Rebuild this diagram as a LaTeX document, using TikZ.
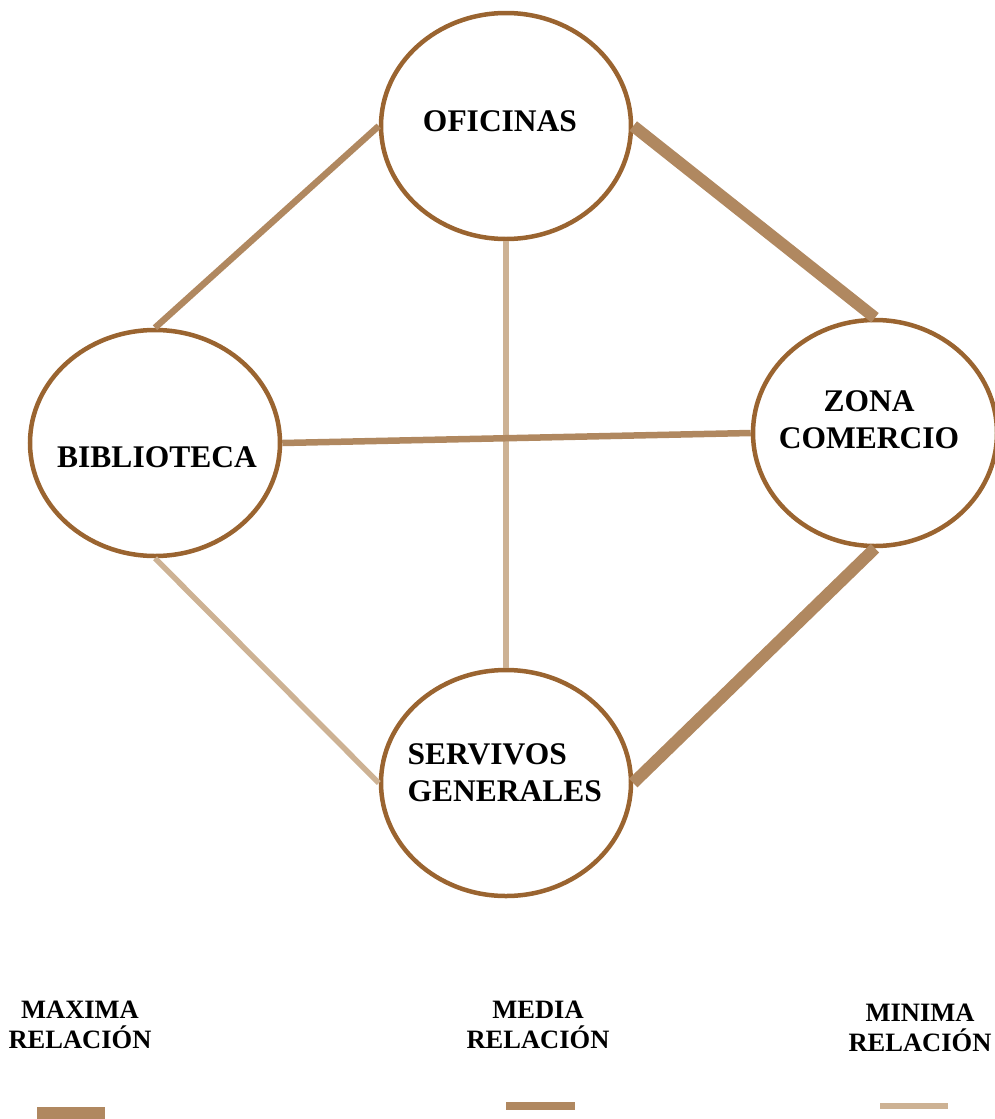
\documentclass[tikz,border=0pt]{standalone}
\usepackage{fontspec}
\setmainfont{Liberation Serif}
\usepackage{xcolor}
\usetikzlibrary{shapes.geometric}

\definecolor{borde}{HTML}{9A6430}
\definecolor{fuerte}{HTML}{B08860}
\definecolor{debil}{HTML}{CDB294}

\begin{document}
\begin{tikzpicture}[x=1pt,y=-1pt,
  zona/.style={ellipse,draw=borde,line width=4.5pt,fill=white,inner sep=0pt,
    minimum width=250pt,minimum height=226pt},
  texto/.style={font=\fontsize{31.5}{37}\selectfont\bfseries,align=center},
  leyenda/.style={font=\fontsize{26.5}{30}\selectfont\bfseries,align=center},
  maxima/.style={draw=fuerte,line width=12pt},
  media/.style={draw=fuerte,line width=6.5pt},
  minima/.style={draw=debil,line width=5.5pt}]
\useasboundingbox (0,0) rectangle (995,1119);

\node[zona]               (O) at (506,126)  {};
\node[zona]               (B) at (155,443)  {};
\node[zona,minimum width=244pt] (Z) at (875,433) {};
\node[zona]               (S) at (506,783)  {};

\node[texto]              (tO) at (500,121) {OFICINAS};
\node[texto]              (tB) at (157,457) {BIBLIOTECA};
\node[texto]              (tZ) at (869,420) {ZONA\\COMERCIO};
\node[texto,align=left,anchor=west] (tS) at (404,773) {SERVIVOS\\GENERALES};

\path (O.west) edge[media]  (B.north)
      (O.east) edge[maxima] (Z.north)
      (O.south) edge[minima] (S.north)
      (B.east) edge[media]  (Z.west)
      (B.south) edge[minima] (S.west)
      (Z.south) edge[maxima] (S.east);

% leyenda
\node[leyenda]            (lmax) at (80,1025)  {MAXIMA\\RELACIÓN};
\node[leyenda]            (lmed) at (538,1025) {MEDIA\\RELACIÓN};
\node[leyenda]            (lmin) at (920,1028) {MINIMA\\RELACIÓN};

\coordinate (max1) at (37,1113);  \coordinate (max2) at (105,1113);
\coordinate (med1) at (506,1106); \coordinate (med2) at (575,1106);
\coordinate (min1) at (880,1106); \coordinate (min2) at (948,1106);
\draw[maxima] (max1) -- (max2);
\draw[fuerte,line width=8pt] (med1) -- (med2);
\draw[minima] (min1) -- (min2);
\end{tikzpicture}
\end{document}
